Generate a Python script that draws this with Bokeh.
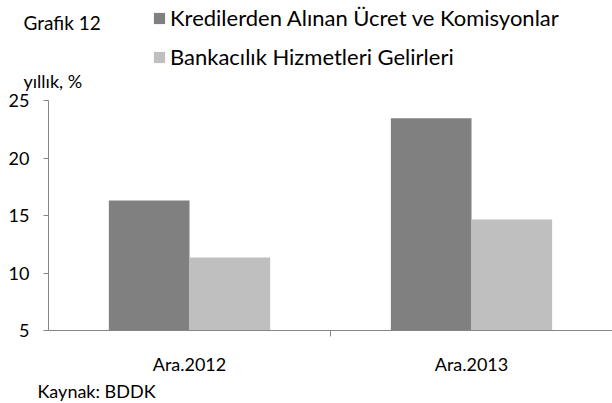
from bokeh.plotting import figure
from bokeh.models import Range1d, FixedTicker, Label, Legend, LegendItem, ColumnDataSource
from bokeh.transform import dodge
from bokeh.embed import file_html
from bokeh.resources import INLINE

categories = ["Ara.2012", "Ara.2013"]
kredi = [16.3, 23.45]
bankacilik = [11.35, 14.65]
series_names = ["Kredilerden Alınan Ücret ve Komisyonlar", "Bankacılık Hizmetleri Gelirleri"]
y_ticks = [5, 10, 15, 20, 25]
chart_no = "Grafik 12"
unit_text = "yıllık, %"
source_text = "Kaynak: BDDK"

FONT = "Lato"
AXIS_COLOR = "#868686"
DARK = "#808080"
LIGHT = "#bfbfbf"

W, H = 612, 403
# plot-area geometry in page pixels (axes are drawn at fixed locations)
AX_LEFT, AX_TOP, AX_BOTTOM = 48, 100, 330
PX_CAT = 282.0
y0, y1 = y_ticks[0], y_ticks[-1]
px_unit = (AX_BOTTOM - AX_TOP) / (y1 - y0)
n = len(categories)

centers = [i + 0.5 for i in range(n)]
bounds = [i for i in range(1, n)]
src = ColumnDataSource(dict(x=centers, kredi=kredi, bank=bankacilik))

p = figure(width=W, height=H, output_backend="svg", toolbar_location=None,
           x_range=Range1d(-AX_LEFT / PX_CAT, (W - AX_LEFT) / PX_CAT),
           y_range=Range1d(y0 - (H - AX_BOTTOM) / px_unit, y1 + AX_TOP / px_unit),
           min_border_left=0, min_border_right=0, min_border_top=0, min_border_bottom=0)
p.outline_line_color = None
p.xgrid.visible = False
p.ygrid.visible = False

r1 = p.vbar(x=dodge('x', -0.143), top='kredi', bottom=y0, width=0.286, source=src,
            fill_color=DARK, line_color=None)
r2 = p.vbar(x=dodge('x', 0.143), top='bank', bottom=y0, width=0.286, source=src,
            fill_color=LIGHT, line_color=None)

xa = p.xaxis[0]
xa.fixed_location = y0
xa.bounds = (0, n)
xa.ticker = FixedTicker(ticks=centers, minor_ticks=bounds)
xa.major_label_overrides = {c: cat for c, cat in zip(centers, categories)}
xa.major_tick_out = 0
xa.major_tick_in = 0
xa.minor_tick_out = 6
xa.minor_tick_in = 0
xa.axis_line_color = AXIS_COLOR
xa.minor_tick_line_color = AXIS_COLOR
xa.major_label_text_font = FONT
xa.major_label_text_font_size = "18px"
xa.major_label_text_color = "black"
xa.major_label_standoff = 16

ya = p.yaxis[0]
ya.fixed_location = 0
ya.bounds = (y0, y1)
ya.ticker = FixedTicker(ticks=y_ticks)
ya.major_tick_out = 5
ya.major_tick_in = 0
ya.minor_tick_out = 0
ya.minor_tick_in = 0
ya.axis_line_color = AXIS_COLOR
ya.major_tick_line_color = AXIS_COLOR
ya.major_label_text_font = FONT
ya.major_label_text_font_size = "18px"
ya.major_label_text_color = "black"
ya.major_label_standoff = 14

legend = Legend(items=[LegendItem(label=series_names[0], renderers=[r1]),
                       LegendItem(label=series_names[1], renderers=[r2])],
                location=(152, H - 70), orientation="vertical",
                glyph_width=14, glyph_height=14, label_standoff=4,
                label_height=26, spacing=12, padding=0, margin=0,
                border_line_color=None, background_fill_alpha=0,
                label_text_font=FONT, label_text_font_size="22px",
                label_text_color="black")
p.add_layout(legend)

# free texts: (text, left x, baseline y) in page pixels from top-left
for txt, x, yb, size in [(chart_no, 23, 31, 19), (unit_text, 23, 89, 18),
                         (source_text, 37, 399, 18)]:
    p.add_layout(Label(x=x, y=H - yb + 0.45 * size, x_units="screen", y_units="screen",
                       text=txt, text_font=FONT, text_font_size=f"{size}px",
                       text_color="black", text_baseline="alphabetic", text_align="left"))

open("out.html", "w").write(file_html(p, INLINE))
